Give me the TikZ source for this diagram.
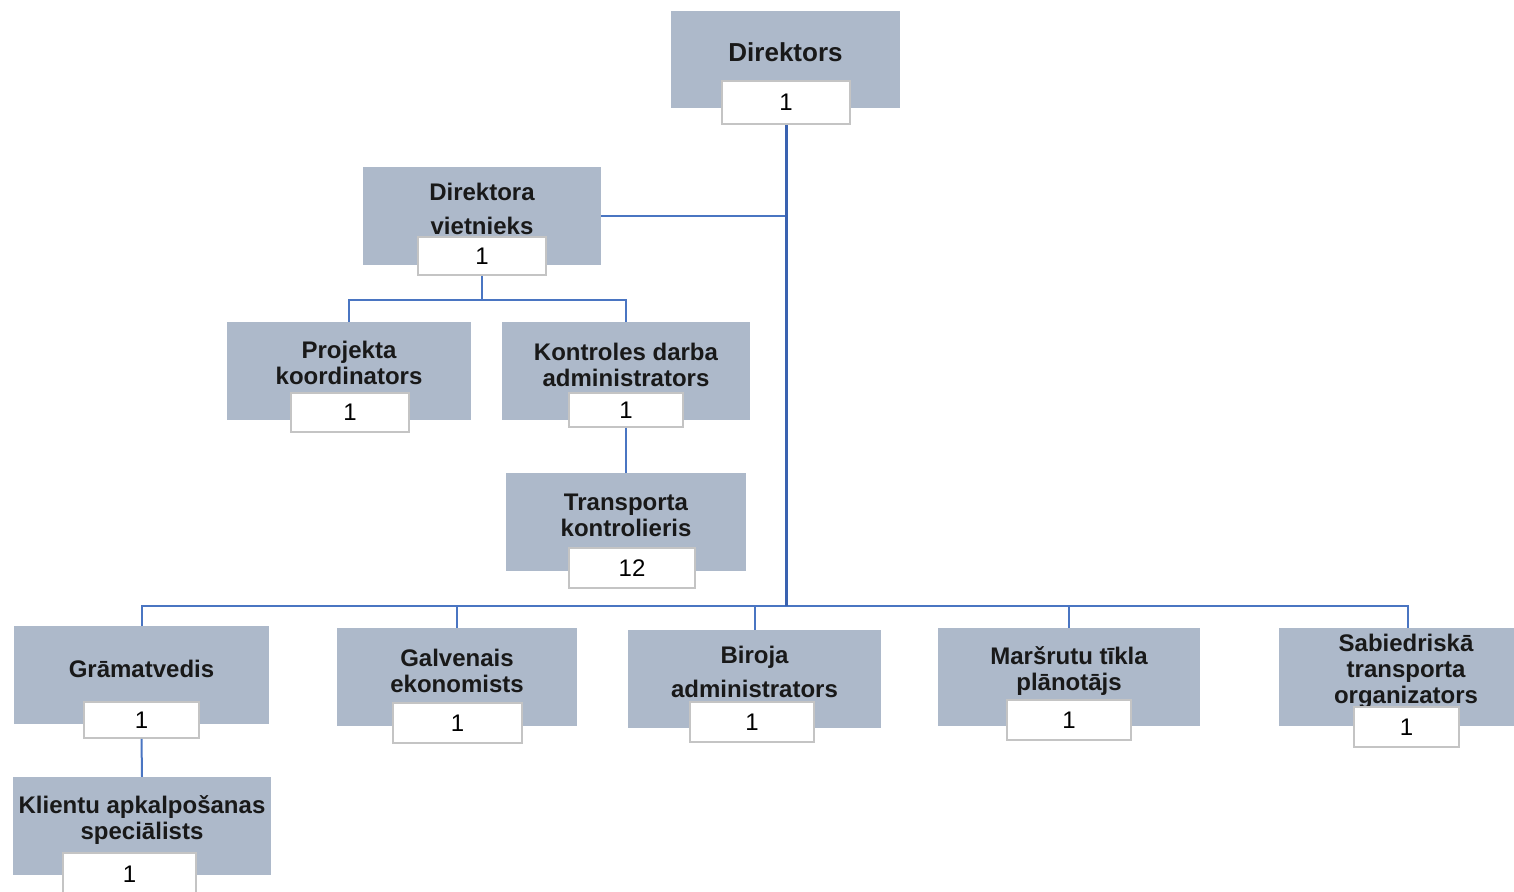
\documentclass[tikz,border=0pt]{standalone}
\usepackage{fontspec}
\setmainfont{Liberation Sans}
\begin{document}
\begin{tikzpicture}[x=1pt,y=-1pt,
  gbox/.style={rectangle,fill=boxgray,draw=none,inner sep=0pt},
  nbox/.style={rectangle,fill=white,draw=nbgray,line width=1.6pt,inner sep=0pt,font=\fontsize{24}{26}\selectfont},
  lbl/.style={align=center,inner sep=0pt,font=\fontsize{24}{26}\selectfont\bfseries,text=black!90},
  lblw/.style={align=center,inner sep=0pt,font=\fontsize{24}{34}\selectfont\bfseries,text=black!90},
  conn/.style={draw=lineblue,line width=2pt},
  trunk/.style={draw=trunkblue,line width=3pt}]
\definecolor{boxgray}{HTML}{ADB9CA}
\definecolor{nbgray}{HTML}{C4C4C4}
\definecolor{lineblue}{HTML}{4A75C2}
\definecolor{trunkblue}{HTML}{3A62B0}
\clip (0,0) rectangle (1514,891);
\fill[white] (0,0) rectangle (1514,891);
% gray boxes
\node[gbox,minimum width=229pt,minimum height=97pt] (dir) at (785.5,59.5) {};
\node[gbox,minimum width=238pt,minimum height=98pt] (dv) at (482,216) {};
\node[gbox,minimum width=244pt,minimum height=98pt] (pk) at (349,371) {};
\node[gbox,minimum width=248pt,minimum height=98pt] (kd) at (626,371) {};
\node[gbox,minimum width=240pt,minimum height=98pt] (tk) at (626,522) {};
\node[gbox,minimum width=255pt,minimum height=98pt] (gr) at (141.5,675) {};
\node[gbox,minimum width=240pt,minimum height=98pt] (ga) at (457,677) {};
\node[gbox,minimum width=253pt,minimum height=98pt] (bi) at (754.5,679) {};
\node[gbox,minimum width=262pt,minimum height=98pt] (ma) at (1069,677) {};
\node[gbox,minimum width=258pt,minimum height=98pt] (sa) at (1408,677) {};
\node[gbox,minimum width=258pt,minimum height=98pt] (kl) at (142,826) {};
% labels
\node[lbl,font=\fontsize{26}{28}\selectfont\bfseries] (dir-t) at (785.5,52) {Direktors};
\node[lblw] (dv-t) at (482,208.5) {Direktora\\vietnieks};
\node[lbl] (pk-t) at (349,363) {Projekta\\koordinators};
\node[lbl] (kd-t) at (626,364.5) {Kontroles darba\\administrators};
\node[lbl] (tk-t) at (626,515.5) {Transporta\\kontrolieris};
\node[lbl] (gr-t) at (141.5,669) {Grāmatvedis};
\node[lbl] (ga-t) at (457,671) {Galvenais\\ekonomists};
\node[lblw] (bi-t) at (754.5,672) {Biroja\\administrators};
\node[lbl] (ma-t) at (1069,671) {Maršrutu tīkla\\plānotājs};
\node[lbl] (sa-t) at (1406,671) {Sabiedriskā\\transporta\\organizators};
\node[lbl] (kl-t) at (142,820) {Klientu apkalpošanas\\speciālists};
% number boxes
\node[nbox,minimum width=128pt,minimum height=43pt] (dir-n) at (786,102.5) {1};
\node[nbox,minimum width=128pt,minimum height=38pt] (dv-n) at (482,256) {1};
\node[nbox,minimum width=118pt,minimum height=39pt] (pk-n) at (350,412.5) {1};
\node[nbox,minimum width=114pt,minimum height=34pt] (kd-n) at (626,410) {1};
\node[nbox,minimum width=126pt,minimum height=40pt] (tk-n) at (632,568) {12};
\node[nbox,minimum width=115pt,minimum height=36pt] (gr-n) at (141.5,720) {1};
\node[nbox,minimum width=129pt,minimum height=40pt] (ga-n) at (457.5,723) {1};
\node[nbox,minimum width=124pt,minimum height=40pt] (bi-n) at (752,722) {1};
\node[nbox,minimum width=124pt,minimum height=40pt] (ma-n) at (1069,720) {1};
\node[nbox,minimum width=105pt,minimum height=40pt] (sa-n) at (1406.5,727) {1};
\node[nbox,minimum width=133pt,minimum height=42pt] (kl-n) at (129.5,874) {1};
% junction coordinates
\coordinate (bj) at (786,606);
\coordinate (vj) at (482,300);
% connectors
\draw[conn] (dv.east) -- (dv.east -| bj);
\draw[conn] (dv-n.south) -- (vj);
\draw[conn] (pk.north) |- (vj) -| (kd.north);
\draw[conn] (kd-n.south) -- (tk.north);
\draw[conn] (gr.north) |- (sa.north |- bj) -- (sa.north);
\draw[conn] (ga.north) -- (ga.north |- bj);
\draw[conn] (bi.north) -- (bi.north |- bj);
\draw[conn] (ma.north) -- (ma.north |- bj);
\draw[conn] (gr-n.south) -- (kl.north);
\draw[trunk] (dir-n.south) -- (bj);
\end{tikzpicture}
\end{document}
